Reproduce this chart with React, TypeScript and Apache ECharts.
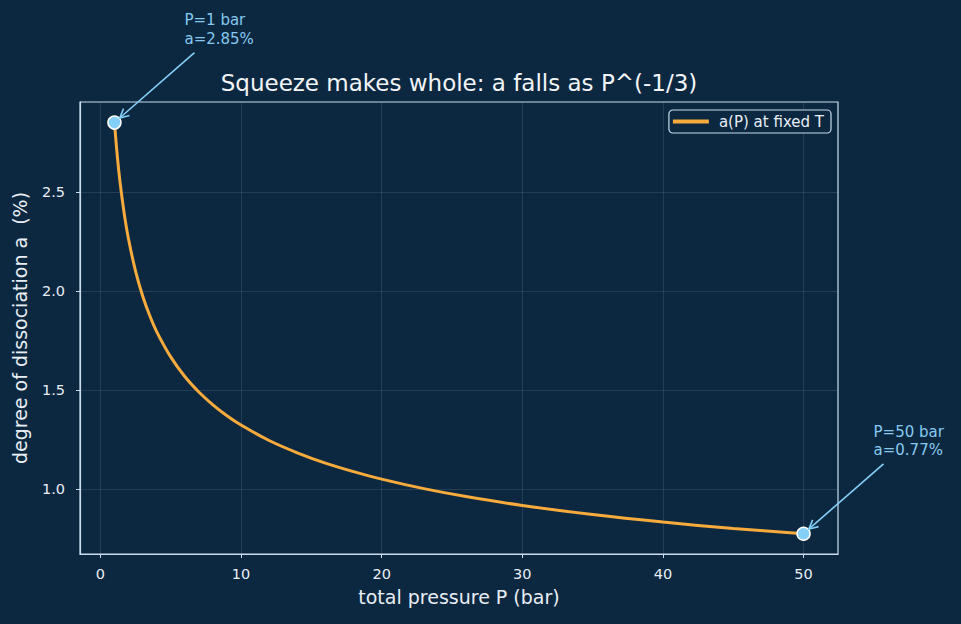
import React, { useEffect, useRef } from "react";
import * as echarts from "echarts";

// Values
const pressureP = [1, 1.2, 1.4, 1.7, 2, 2.5, 3, 3.5, 4, 5, 6, 7, 8, 9, 10, 12, 14, 16, 18, 20, 23, 26, 30, 35, 40, 45, 50];
const alphaPct = [2.85, 2.682, 2.548, 2.388, 2.262, 2.1, 1.976, 1.877, 1.795, 1.667, 1.568, 1.49, 1.425, 1.37, 1.323, 1.245, 1.183, 1.131, 1.088, 1.05, 1.002, 0.962, 0.917, 0.871, 0.833, 0.801, 0.774];
const markerP = [1, 50];
const markerA = [2.85, 0.774];
const xTicks = [0, 10, 20, 30, 40, 50];
const yTicks = [1.0, 1.5, 2.0, 2.5];

const BG = "#0c2841";
const SPINE = "#c9dcec";
const CURVE = "#f7ab3c";
const MARK = "#84cff7";
const NOTE = "#86c9ef";
const TXT = "#e8eef4";
const FONT = "DejaVu Sans";

export default function App() {
  const ref = useRef<HTMLDivElement>(null);
  useEffect(() => {
    if (!ref.current) return;
    const chart = echarts.init(ref.current, undefined, { renderer: "svg" });
    const option: any = {
      animation: false,
      backgroundColor: BG,
      textStyle: { fontFamily: FONT },
      title: {
        text: "Squeeze makes whole: a falls as P^(-1/3)",
        left: 459,
        top: 71,
        textAlign: "center",
        padding: 0,
        textStyle: { color: "#f2f5f8", fontSize: 23, fontWeight: "normal", fontFamily: FONT },
      },
      legend: {
        right: 130,
        top: 110,
        orient: "vertical",
        data: [{ name: "a(P) at fixed T", icon: "rect" }],
        itemWidth: 36,
        itemHeight: 4,
        itemGap: 6,
        padding: [4, 7, 4, 4],
        borderColor: SPINE,
        borderWidth: 1.2,
        borderRadius: 4,
        backgroundColor: BG,
        textStyle: { color: TXT, fontSize: 15, fontFamily: FONT, padding: [0, 0, 0, 5] },
      },
      grid: {
        left: 80,
        right: 123,
        top: 102,
        bottom: 70,
        show: true,
        borderColor: SPINE,
        borderWidth: 1.2,
        backgroundColor: "transparent",
      },
      xAxis: {
        type: "value",
        min: -1.45,
        max: 52.45,
        name: "total pressure P (bar)",
        nameLocation: "middle",
        nameGap: 33,
        nameTextStyle: { color: TXT, fontSize: 19, fontFamily: FONT },
        axisLine: { show: true, onZero: false, lineStyle: { color: SPINE, width: 1.2 } },
        axisTick: { show: true, customValues: xTicks, length: 4, lineStyle: { color: SPINE } },
        axisLabel: {
          customValues: xTicks,
          color: TXT,
          fontSize: 14.5,
          margin: 12,
          formatter: (v: number) => String(v),
        },
        splitLine: { show: true, lineStyle: { color: "rgba(255,255,255,0.13)", width: 0.8 } },
      },
      yAxis: {
        type: "value",
        min: 0.672,
        max: 2.954,
        name: "degree of dissociation a  (%)",
        nameLocation: "middle",
        nameGap: 51,
        nameTextStyle: { color: TXT, fontSize: 19, fontFamily: FONT },
        axisLine: { show: true, onZero: false, lineStyle: { color: SPINE, width: 1.2 } },
        axisTick: { show: true, customValues: yTicks, length: 4, lineStyle: { color: SPINE } },
        axisLabel: {
          customValues: yTicks,
          color: TXT,
          fontSize: 14.5,
          margin: 15,
          formatter: (v: number) => v.toFixed(1),
        },
        splitLine: { show: true, lineStyle: { color: "rgba(255,255,255,0.13)", width: 0.8 } },
      },
      series: [
        {
          name: "a(P) at fixed T",
          type: "line",
          data: pressureP.map((p, i) => [p, alphaPct[i]]),
          showSymbol: false,
          symbol: "none",
          smooth: 0.3,
          lineStyle: { color: CURVE, width: 3 },
          itemStyle: { color: CURVE },
          z: 3,
        },
        {
          name: "markers",
          type: "scatter",
          data: markerP.map((p, i) => [p, markerA[i]]),
          symbol: "circle",
          symbolSize: 13,
          itemStyle: { color: MARK, borderColor: "#ffffff", borderWidth: 1.5, opacity: 1 },
          z: 5,
        },
      ],
    };
    chart.setOption(option);

    const graphics: any[] = [];
    markerP.forEach((p, i) => {
      const pt = chart.convertToPixel({ gridIndex: 0 }, [p, markerA[i]]) as number[];
      const sx = pt[0] + 80;
      const sy = pt[1] - 70;
      const dx = pt[0] - sx;
      const dy = pt[1] - sy;
      const len = Math.sqrt(dx * dx + dy * dy);
      const ux = dx / len;
      const uy = dy / len;
      const tx = pt[0] - ux * 7;
      const ty = pt[1] - uy * 7;
      const hl = 9;
      const hw = 4.5;
      const bx = tx - ux * hl;
      const by = ty - uy * hl;
      graphics.push({
        type: "line",
        shape: { x1: sx, y1: sy, x2: tx, y2: ty },
        style: { stroke: MARK, lineWidth: 1.6 },
        z: 10,
      });
      graphics.push({
        type: "polyline",
        shape: {
          points: [
            [bx - uy * hw, by + ux * hw],
            [tx, ty],
            [bx + uy * hw, by - ux * hw],
          ],
        },
        style: { stroke: MARK, lineWidth: 1.6, fill: null },
        z: 10,
      });
      graphics.push({
        type: "text",
        x: pt[0] + 70,
        y: pt[1] - 93,
        style: {
          text: `P=${p} bar\na=${markerA[i].toFixed(2)}%`,
          fill: NOTE,
          fontSize: 15,
          fontFamily: FONT,
          lineHeight: 18.5,
          align: "left",
          verticalAlign: "middle",
        },
        z: 10,
      });
    });
    chart.setOption({ graphic: graphics });

    return () => chart.dispose();
  }, []);
  return (
    <div
      ref={ref}
      style={{ position: "fixed", left: 0, top: 0, width: 961, height: 624, background: BG }}
    />
  );
}
